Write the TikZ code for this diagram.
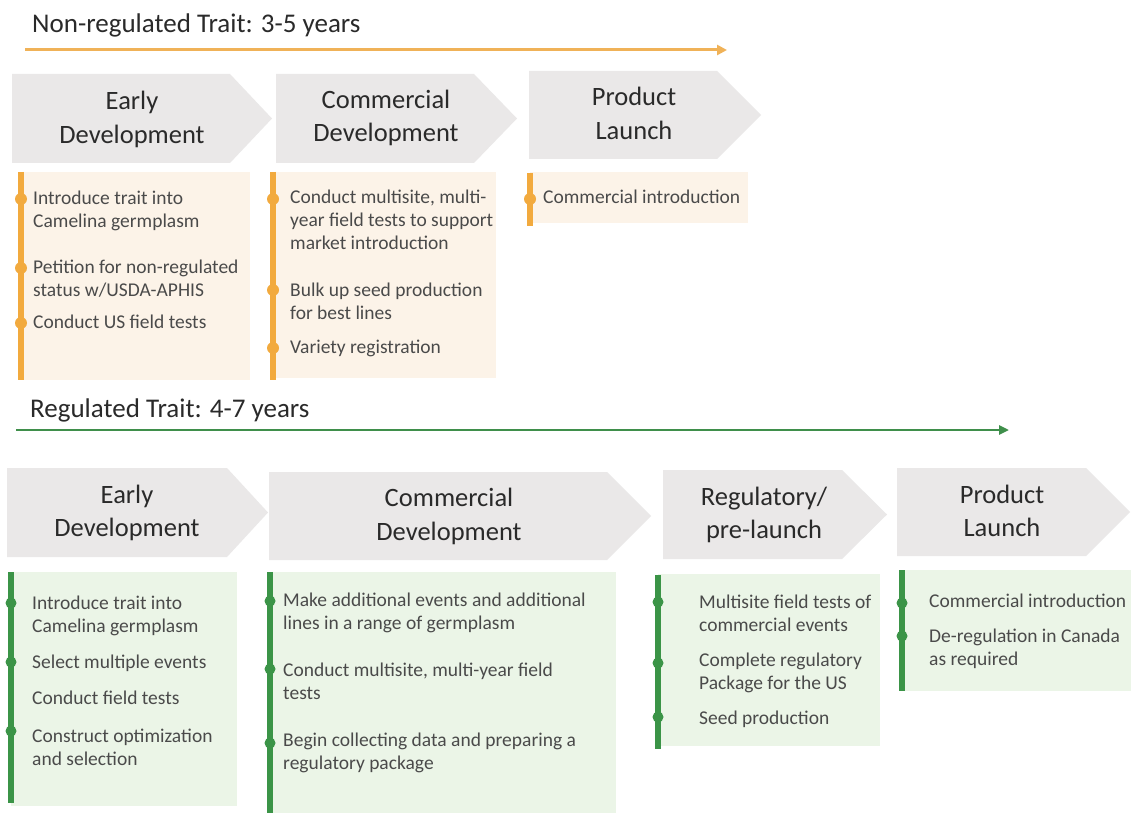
\documentclass[tikz,border=0pt]{standalone}
\usepackage{fontspec}
\setmainfont{Carlito}
\usetikzlibrary{arrows.meta}
\definecolor{chev}{HTML}{EAE8E8}
\definecolor{ofill}{HTML}{FCF3E8}
\definecolor{obar}{HTML}{F2AA3E}
\definecolor{oline}{HTML}{F0B258}
\definecolor{gfill}{HTML}{EBF5E7}
\definecolor{gbar}{HTML}{3B9447}
\definecolor{gline}{HTML}{3F8F4B}
\definecolor{htext}{HTML}{2A2A2A}
\definecolor{itext}{HTML}{4A4A4A}
\newcommand\mychev[5]{\fill[chev] (#1,#2) -- (#4,#2) -- (#5,{(#2+#3)/2}) -- (#4,#3) -- (#1,#3) -- cycle;}
\begin{document}
\begin{tikzpicture}[x=1pt,y=-1pt,
  headtext/.style={font=\fontsize{26.5}{33.5}\selectfont, text=htext, align=center, inner sep=0pt, anchor=base},
  titletext/.style={font=\fontsize{27}{32}\selectfont, text=htext, inner sep=0pt, anchor=base west},
  itemtext/.style={font=\fontsize{19.5}{23}\selectfont, text=itext, align=left, inner sep=0pt, anchor=base west},
  obox/.style={fill=ofill, draw=none},
  gbox/.style={fill=gfill, draw=none},
  obarline/.style={draw=obar, line width=6pt},
  gbarline/.style={draw=gbar, line width=6pt},
  odot/.style={circle, fill=obar, inner sep=0pt, minimum size=12pt},
  gdot/.style={circle, fill=gbar, inner sep=0pt, minimum size=11pt},
  otimeline/.style={draw=oline, line width=3pt, -{Triangle[length=10pt,width=10pt]}},
  gtimeline/.style={draw=gline, line width=2.5pt, -{Triangle[length=10pt,width=9pt]}},
]
\useasboundingbox[fill=white] (0,0) rectangle (1131,813);

% (multi-line nodes are placed by the baseline of their last line)
% ---------------- Non-regulated trait ----------------
\node[titletext] (t1) at (32,33) {Non-regulated Trait: 3-5 years};
\coordinate (oa1) at (25,50);
\coordinate (oa2) at (727,50);
\draw[otimeline] (oa1) -- (oa2);

\mychev{12}{74}{163}{230}{272}
\mychev{276}{74}{163}{474}{517}
\mychev{529}{71}{159}{717}{761}
\node[headtext] (h1) at (132,143.5) {Early\\Development};
\node[headtext] (h2) at (386,142) {Commercial\\Development};
\node[headtext] (h3) at (634,139.5) {Product\\Launch};

\fill[obox] (21,172) rectangle (250,380);
\fill[obox] (273,172) rectangle (496,378);
\fill[obox] (530,172) rectangle (748,223);
\coordinate (ob1a) at (21,172); \coordinate (ob1b) at (21,380);
\coordinate (ob2a) at (273,172); \coordinate (ob2b) at (273,380);
\coordinate (ob3a) at (530,173); \coordinate (ob3b) at (530,226);
\draw[obarline] (ob1a) -- (ob1b);
\draw[obarline] (ob2a) -- (ob2b);
\draw[obarline] (ob3a) -- (ob3b);

\node[odot] (od11) at (21,199) {};
\node[odot] (od12) at (21,268) {};
\node[odot] (od13) at (21,323) {};
\node[itemtext] (oi11) at (33,227) {Introduce trait into\\Camelina germplasm};
\node[itemtext] (oi12) at (33,296) {Petition for non-regulated\\status  w/USDA-APHIS};
\node[itemtext] (oi13) at (33,328) {Conduct US field tests};

\node[odot] (od21) at (273,199) {};
\node[odot] (od22) at (273,290) {};
\node[odot] (od23) at (273,348) {};
\node[itemtext] (oi21) at (290,249) {Conduct multisite, multi-\\year field tests to support\\market introduction};
\node[itemtext] (oi22) at (290,319) {Bulk up seed production\\for best lines};
\node[itemtext] (oi23) at (290,353) {Variety registration};

\node[odot] (od31) at (530,199) {};
\node[itemtext] (oi31) at (543,204) {Commercial introduction};

% ---------------- Regulated trait ----------------
\node[titletext] (t2) at (30,417) {Regulated Trait: 4-7 years};
\coordinate (ga1) at (16,430);
\coordinate (ga2) at (1009,430);
\draw[gtimeline] (ga1) -- (ga2);

\mychev{7}{468}{557}{227}{268}
\mychev{269}{472}{560}{607}{651}
\mychev{663}{470}{559}{842}{887}
\mychev{897}{468}{556}{1086}{1130}
\node[headtext] (g1) at (127,536.5) {Early\\Development};
\node[headtext] (g2) at (449,540) {Commercial\\Development};
\node[headtext] (g3) at (764,538.5) {Regulatory/\\pre-launch};
\node[headtext] (g4) at (1002,536.5) {Product\\Launch};

\fill[gbox] (11,572) rectangle (237,806);
\fill[gbox] (270,572) rectangle (616,813);
\fill[gbox] (658,574) rectangle (880,746);
\fill[gbox] (902,570) rectangle (1131,691);
\coordinate (gb1a) at (11,572); \coordinate (gb1b) at (11,803);
\coordinate (gb2a) at (270,572); \coordinate (gb2b) at (270,813);
\coordinate (gb3a) at (658,575); \coordinate (gb3b) at (658,749);
\coordinate (gb4a) at (902,570); \coordinate (gb4b) at (902,691);
\draw[gbarline] (gb1a) -- (gb1b);
\draw[gbarline] (gb2a) -- (gb2b);
\draw[gbarline] (gb3a) -- (gb3b);
\draw[gbarline] (gb4a) -- (gb4b);

\node[gdot] (gd11) at (11,603) {};
\node[gdot] (gd12) at (11,662) {};
\node[gdot] (gd13) at (11,731) {};
\node[itemtext] (gi11) at (32,632) {Introduce trait into\\Camelina germplasm};
\node[itemtext] (gi12) at (32,668) {Select multiple events};
\node[itemtext] (gi13) at (32,704) {Conduct field tests};
\node[itemtext] (gi14) at (32,765) {Construct optimization\\and selection};

\node[gdot] (gd21) at (270,601) {};
\node[gdot] (gd22) at (270,669) {};
\node[gdot] (gd23) at (270,743) {};
\node[itemtext] (gi21) at (283,629) {Make additional events and additional\\lines in a range  of germplasm};
\node[itemtext] (gi22) at (283,699) {Conduct multisite, multi-year field\\tests};
\node[itemtext] (gi23) at (283,769) {Begin collecting data and preparing a\\regulatory package};

\node[gdot] (gd31) at (658,602) {};
\node[gdot] (gd32) at (658,663) {};
\node[gdot] (gd33) at (658,717) {};
\node[itemtext] (gi31) at (699,631) {Multisite field tests of\\commercial events};
\node[itemtext] (gi32) at (699,689) {Complete  regulatory\\Package for the US};
\node[itemtext] (gi33) at (699,724) {Seed production};

\node[gdot] (gd41) at (902,603) {};
\node[gdot] (gd42) at (902,636) {};
\node[itemtext] (gi41) at (929,607) {Commercial introduction};
\node[itemtext] (gi42) at (929,665) {De-regulation in Canada\\as required};
\end{tikzpicture}
\end{document}
